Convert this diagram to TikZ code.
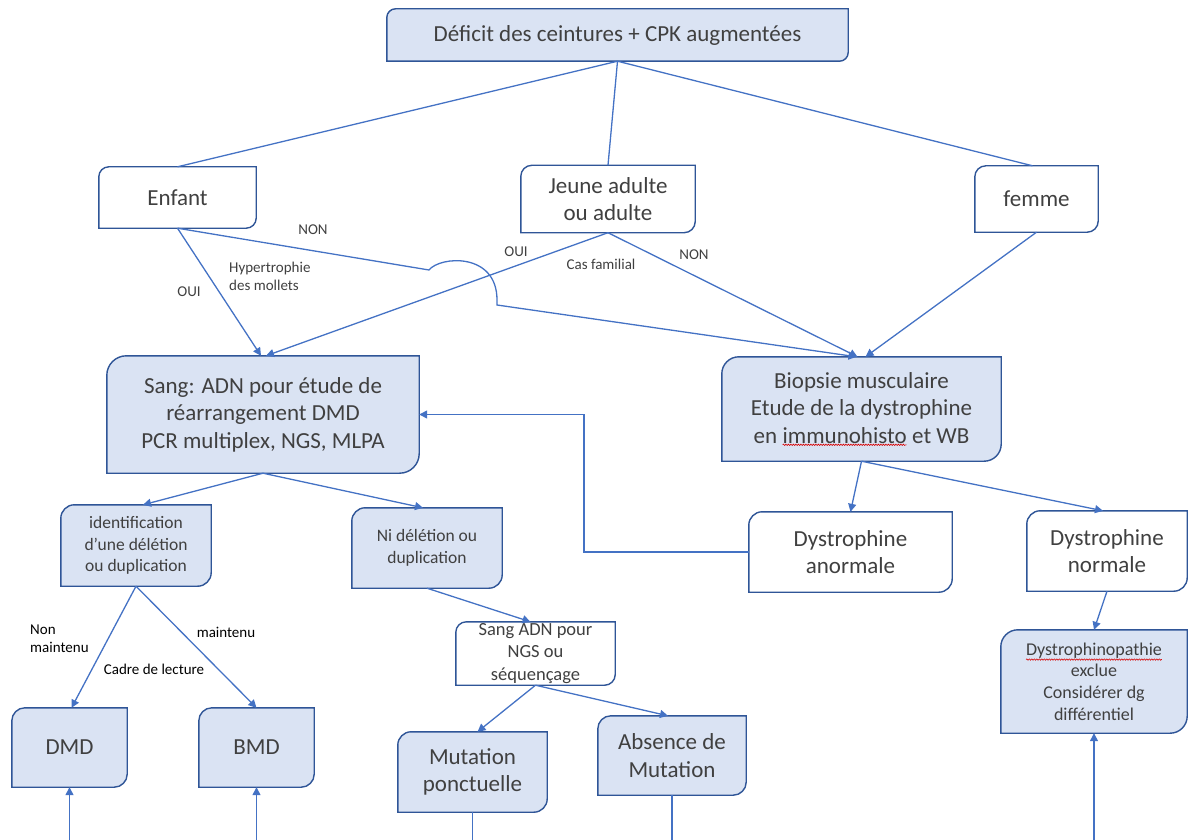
\documentclass[tikz,border=0pt]{standalone}
\usepackage{fontspec}
\setmainfont{Carlito}
\usetikzlibrary{calc,arrows.meta,decorations.pathmorphing}
\definecolor{bfill}{HTML}{DAE3F3}
\definecolor{bord}{HTML}{2F5597}
\definecolor{conn}{HTML}{4472C4}
\definecolor{txtc}{HTML}{404040}
\pgfdeclarelayer{bg}
\pgfsetlayers{bg,main}
\newcommand\shp[3]{%
  \path[draw=bord, line width=1.4pt, fill=#3] (#1.south west) -- ($(#1.north west)+(0,#2)$)
    .. controls ($(#1.north west)+(0,0.45*#2)$) and ($(#1.north west)+(0.45*#2,0)$) .. ($(#1.north west)+(#2,0)$)
    -- (#1.north east) -- ($(#1.south east)+(0,-#2)$)
    .. controls ($(#1.south east)+(0,-0.45*#2)$) and ($(#1.south east)+(-0.45*#2,0)$) .. ($(#1.south east)+(-#2,0)$)
    -- cycle;}
\newcommand\squig[1]{\tikz[baseline=(sqw.base)]{\node[inner sep=0pt,outer sep=0pt,minimum width=0pt,minimum height=0pt,anchor=base](sqw){#1};
  \draw[red!85!black,line width=0.6pt,decorate,decoration={snake,amplitude=0.7pt,segment length=2.5pt}]
  ([yshift=-1.5pt]sqw.south west)--([yshift=-1.5pt]sqw.south east);}}
\tikzset{
  bx/.style={inner sep=0pt, align=center, text=txtc},
  big/.style={font=\fontsize{23}{27.5}\selectfont},
  mid/.style={font=\fontsize{17.5}{21.5}\selectfont},
  lab/.style={inner sep=0pt, text=txtc, font=\fontsize{15}{18}\selectfont},
  blab/.style={inner sep=0pt, text=black, font=\fontsize{15}{18}\selectfont},
  cn/.style={draw=conn, line width=1.3pt},
  ar/.style={cn, -{Triangle[length=8pt,width=8pt]}}
}
\begin{document}
\begin{tikzpicture}[x=1pt,y=-1pt]
\useasboundingbox (0,0) rectangle (1189,840);
% nodes
\node[bx,big,minimum width=461,minimum height=52] (top) at (617.5,35) {Déficit des ceintures + CPK augmentées};
\node[bx,big,minimum width=157,minimum height=61] (enfant) at (177.5,197.5) {Enfant};
\node[bx,big,minimum width=174,minimum height=67] (jeune) at (608,199) {Jeune adulte\\ou adulte};
\node[bx,big,minimum width=123,minimum height=66] (femme) at (1036.5,199) {femme};
\node[bx,big,minimum width=312,minimum height=117] (sang) at (263,414.5) {Sang: ADN pour étude de\\réarrangement DMD\\PCR multiplex, NGS, MLPA};
\node[bx,big,minimum width=279,minimum height=104] (biop) at (861.5,409) {Biopsie musculaire\\Etude de la dystrophine\\en \squig{immunohisto} et WB};
\node[bx,mid,minimum width=150,minimum height=81] (ident) at (136,545.5) {identification\\d’une délétion\\ou duplication};
\node[bx,mid,minimum width=150,minimum height=80] (ni) at (427,548) {Ni délétion ou\\duplication};
\node[bx,font=\fontsize{18.5}{22.5}\selectfont,minimum width=159,minimum height=63] (ngs) at (535.5,653.5) {Sang ADN pour\\NGS ou\\séquençage};
\node[bx,big,minimum width=115,minimum height=79] (dmd) at (69.5,747.5) {DMD};
\node[bx,big,minimum width=115,minimum height=79] (bmd) at (256.5,747.5) {BMD};
\node[bx,big,minimum width=149,minimum height=80] (mut) at (472.5,772) {Mutation\\ponctuelle};
\node[bx,big,minimum width=148,minimum height=79] (abs) at (672,755.5) {Absence de\\Mutation};
\node[bx,big,minimum width=203,minimum height=80] (anorm) at (850.5,552) {Dystrophine\\anormale};
\node[bx,big,minimum width=160,minimum height=80] (norm) at (1107,551) {Dystrophine\\normale};
\node[bx,font=\fontsize{18}{21.7}\selectfont,minimum width=186,minimum height=103] (dys) at (1094,681.5) {\squig{Dystrophinopathie}\\exclue\\Considérer dg\\différentiel};
% shapes
\begin{pgfonlayer}{bg}
\shp{top}{8.7}{bfill}
\shp{enfant}{10}{white}
\shp{jeune}{11}{white}
\shp{femme}{11}{white}
\shp{sang}{19.5}{bfill}
\shp{biop}{17}{bfill}
\shp{ident}{13.5}{bfill}
\shp{ni}{13.3}{bfill}
\shp{ngs}{10.5}{white}
\shp{dmd}{13}{bfill}
\shp{bmd}{13}{bfill}
\shp{mut}{13.3}{bfill}
\shp{abs}{13}{bfill}
\shp{anorm}{13.3}{white}
\shp{norm}{13.3}{white}
\shp{dys}{17}{bfill}
\end{pgfonlayer}
% labels
\node[lab] (l1) at (313,230) {NON};
\node[lab] (l2) at (189,292) {OUI};
\node[lab,align=left,anchor=west] (l3) at (229,276) {Hypertrophie\\des mollets};
\node[lab] (l4) at (516,252) {OUI};
\node[lab] (l5) at (601,264) {Cas familial};
\node[lab] (l6) at (694,255) {NON};
\node[blab,align=left,anchor=west] (l7) at (30,639) {Non\\maintenu};
\node[blab] (l8) at (226,632) {maintenu};
\node[blab] (l9) at (154,669) {Cadre de lecture};
% coordinates
\coordinate (hop1) at (429,270);
\coordinate (hop2) at (497,305);
\coordinate (bend) at (584,414.5);
\coordinate (e1) at (69.5,840);
\coordinate (e2) at (256.5,840);
\coordinate (e3) at (472.5,840);
\coordinate (e4) at (672,840);
\coordinate (e5) at (1094,840);
% connectors
\draw[cn] (top.south) -- (enfant.north);
\draw[cn] (top.south) -- (jeune.north);
\draw[cn] (top.south) -- ([xshift=-4]femme.north);
\draw[ar] (enfant.south) -- ([xshift=-2]sang.north);
\draw[ar] (jeune.south) -- ([xshift=3]sang.north);
\draw[ar] (enfant.south) -- (hop1) .. controls (440,256) and (497,252) .. (497,300) -- (hop2) -- ([xshift=-5]biop.north);
\draw[ar] (jeune.south) -- ([xshift=-4]biop.north);
\draw[ar] (femme.south) -- ([xshift=4]biop.north);
\draw[ar] (biop.south) -- (anorm.north);
\draw[ar] (biop.south) -- ([xshift=-4]norm.north);
\draw[ar] (norm.south) -- (dys.north);
\draw[ar] (e5) -- (dys.south);
\draw[ar] (anorm.west) -| (bend) -- (sang.east);
\draw[ar] (sang.south) -- ([xshift=7]ident.north);
\draw[ar] (sang.south) -- ([xshift=-4]ni.north);
\draw[ar] (ni.south) -- ([xshift=-5]ngs.north);
\draw[ar] (ident.south) -- ([xshift=2]dmd.north);
\draw[ar] (ident.south) -- (bmd.north);
\draw[ar] (ngs.south) -- ([xshift=5]mut.north);
\draw[ar] (ngs.south) -- ([xshift=-4]abs.north);
\draw[ar] (e1) -- (dmd.south);
\draw[ar] (e2) -- (bmd.south);
\draw[cn] (mut.south) -- (e3);
\draw[cn] (abs.south) -- (e4);
\end{tikzpicture}
\end{document}
